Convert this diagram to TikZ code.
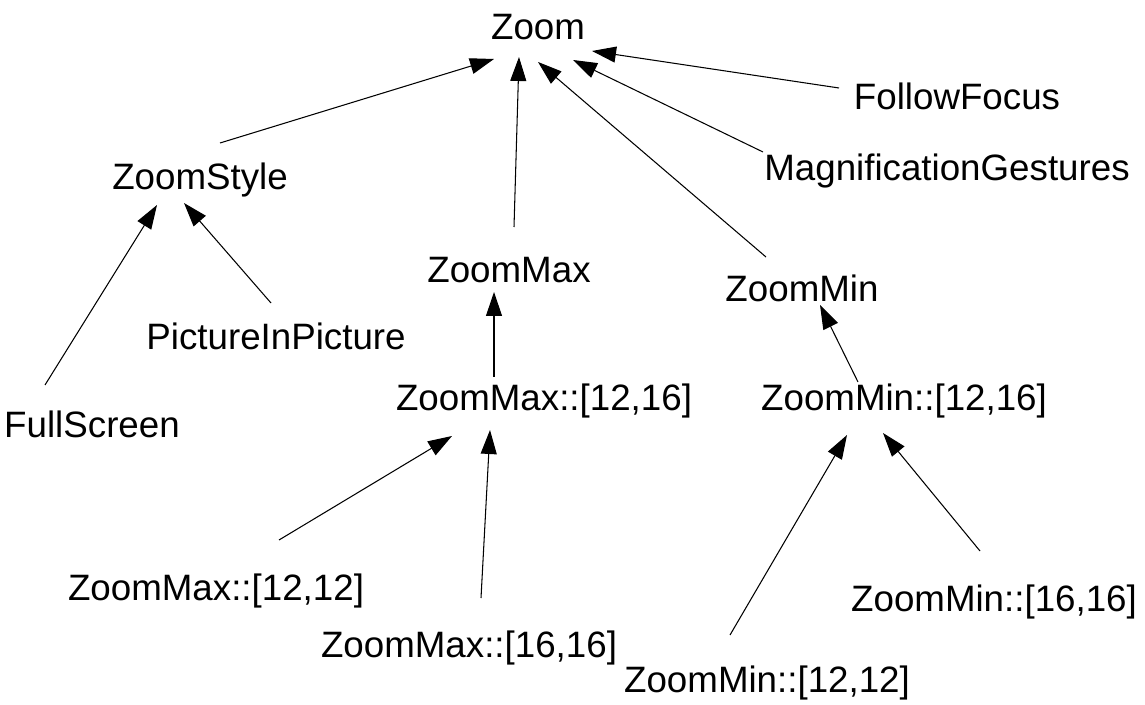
\documentclass[tikz,border=0pt]{standalone}
\usepackage{fontspec}
\setmainfont{Liberation Sans}
\usetikzlibrary{arrows.meta}

\begin{document}
\begin{tikzpicture}[
            x=0.02cm, y=-0.02cm,
            label/.style={anchor=base, inner sep=0pt, font=\fontsize{20.9}{25}\selectfont},
            up/.style={line width=0.6pt, -{Triangle[length=0.48cm, width=0.32cm]}}
            ]
            \useasboundingbox (0,0) rectangle (1145,705);

            \node[label] (zoom) at (538,40) {Zoom};
            \node[label] (followfocus) at (957,110) {FollowFocus};
            \node[label] (maggest) at (947,181) {MagnificationGestures};
            \node[label] (zoomstyle) at (200,190) {ZoomStyle};
            \node[label] (zoommax) at (509,283) {ZoomMax};
            \node[label] (zoommin) at (802,302) {ZoomMin};
            \node[label] (pip) at (276,350) {PictureInPicture};
            \node[label] (fullscreen) at (92,438) {FullScreen};
            \node[label] (max1216) at (544,411) {ZoomMax::[12,16]};
            \node[label] (min1216) at (904,411) {ZoomMin::[12,16]};
            \node[label] (max1212) at (216,600) {ZoomMax::[12,12]};
            \node[label] (max1616) at (469,657) {ZoomMax::[16,16]};
            \node[label] (min1616) at (994,611) {ZoomMin::[16,16]};
            \node[label] (min1212) at (767,692) {ZoomMin::[12,12]};

            % children point up to their parent
            \draw[up] ([shift={(20,-47)}]zoomstyle.base) -- ([shift={(-44,19)}]zoom.base);
            \draw[up] ([shift={(5,-56)}]zoommax.base) -- ([shift={(-19,17)}]zoom.base);
            \draw[up] ([shift={(-36,-45)}]zoommin.base) -- ([shift={(0,22)}]zoom.base);
            \draw[up] ([shift={(-184,-29)}]maggest.base) -- ([shift={(35,20)}]zoom.base);
            \draw[up] ([shift={(-118,-22)}]followfocus.base) -- ([shift={(54,11)}]zoom.base);

            \draw[up] ([shift={(-47,-53)}]fullscreen.base) -- ([shift={(-43,15)}]zoomstyle.base);
            \draw[up] ([shift={(-5,-47)}]pip.base) -- ([shift={(-16,13)}]zoomstyle.base);

            \draw[up] ([shift={(-50,-34)}]max1216.base) -- ([shift={(-15,9)}]zoommax.base);
            \draw[up] ([shift={(-46,-29)}]min1216.base) -- ([shift={(18,3)}]zoommin.base);

            \draw[up] ([shift={(63,-60)}]max1212.base) -- ([shift={(-92,25)}]max1216.base);
            \draw[up] ([shift={(12,-59)}]max1616.base) -- ([shift={(-54,19)}]max1216.base);
            \draw[up] ([shift={(-37,-57)}]min1212.base) -- ([shift={(-57,24)}]min1216.base);
            \draw[up] ([shift={(-14,-60)}]min1616.base) -- ([shift={(-21,22)}]min1216.base);
\end{tikzpicture}
\end{document}
